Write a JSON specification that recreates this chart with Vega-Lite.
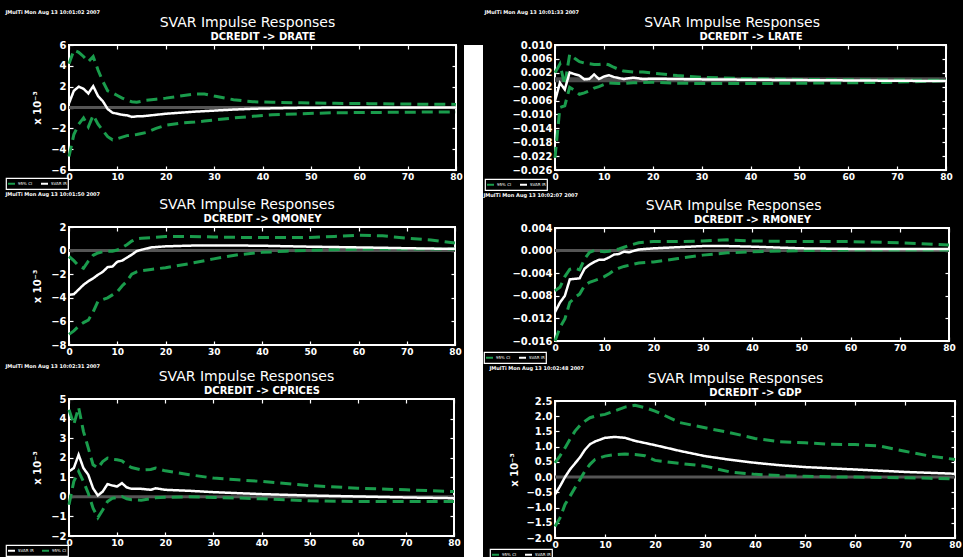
{
"$schema": "https://vega.github.io/schema/vega-lite/v6.json",
"background": "black",
"padding": {"left": 5, "top": 10, "right": 0, "bottom": 0},
"config": {
  "view": {"stroke": "white", "strokeWidth": 2, "fill": "black"},
  "font": "DejaVu Sans",
  "title": {"color": "white", "fontSize": 14, "fontWeight": "normal", "font": "DejaVu Sans"},
  "axis": {"grid": false, "domain": false, "labelColor": "white", "labelFont": "DejaVu Sans", "labelFontWeight": "bold", "labelFontSize": 10, "tickColor": "white", "tickSize": -4, "tickWidth": 1.2, "titleColor": "white", "titleFont": "DejaVu Sans", "labelFlush": false, "labelPadding": 7},
  "axisBottom": {"labelFontSize": 9, "labelPadding": 6},
  "legend": {"orient": "none", "direction": "horizontal", "strokeColor": "white", "strokeWidth": 1.2, "padding": 1, "labelColor": "white", "labelFontSize": 4, "symbolType": "stroke", "symbolSize": 49, "symbolStrokeWidth": 2, "columnPadding": 4, "labelOffset": 2, "rowPadding": 0},
  "line": {"strokeCap": "butt"}
},
"datasets": {
  "drate": [
    {"h":0,"ir":0.4,"lo":-4.7,"hi":4.2},{"h":1,"ir":1.6,"lo":-2.6,"hi":5.5},{"h":2,"ir":2.0,"lo":-1.6,"hi":5.3},{"h":3,"ir":1.8,"lo":-1.0,"hi":4.9},{"h":4,"ir":1.35,"lo":-1.85,"hi":4.4},{"h":5,"ir":2.05,"lo":-0.75,"hi":4.9},{"h":6,"ir":1.1,"lo":-1.6,"hi":3.6},{"h":7,"ir":0.6,"lo":-2.2,"hi":2.5},{"h":8,"ir":-0.15,"lo":-2.8,"hi":1.6},{"h":9,"ir":-0.5,"lo":-3.1,"hi":1.4},{"h":10,"ir":-0.6,"lo":-3.0,"hi":1.15},{"h":11,"ir":-0.7,"lo":-2.85,"hi":0.9},{"h":12,"ir":-0.75,"lo":-2.7,"hi":0.7},{"h":13,"ir":-0.9,"lo":-2.65,"hi":0.55},{"h":14,"ir":-0.85,"lo":-2.6,"hi":0.5},{"h":15,"ir":-0.85,"lo":-2.5,"hi":0.6},{"h":16,"ir":-0.8,"lo":-2.4,"hi":0.7},{"h":18,"ir":-0.7,"lo":-2.0,"hi":0.8},{"h":20,"ir":-0.6,"lo":-1.7,"hi":0.9},{"h":23,"ir":-0.5,"lo":-1.5,"hi":1.1},{"h":26,"ir":-0.4,"lo":-1.4,"hi":1.3},{"h":28,"ir":-0.35,"lo":-1.3,"hi":1.3},{"h":30,"ir":-0.3,"lo":-1.2,"hi":1.1},{"h":34,"ir":-0.2,"lo":-1.0,"hi":0.75},{"h":38,"ir":-0.12,"lo":-0.85,"hi":0.55},{"h":42,"ir":-0.08,"lo":-0.7,"hi":0.5},{"h":48,"ir":-0.03,"lo":-0.6,"hi":0.45},{"h":55,"ir":0.0,"lo":-0.5,"hi":0.4},{"h":62,"ir":0.0,"lo":-0.48,"hi":0.37},{"h":70,"ir":0.0,"lo":-0.45,"hi":0.33},{"h":80,"ir":0.0,"lo":-0.42,"hi":0.3}
  ],
  "lrate": [
    {"h":0,"ir":-0.0061,"lo":-0.0225,"hi":0.0020},{"h":1,"ir":-0.0009,"lo":-0.0080,"hi":0.0045},{"h":2,"ir":-0.0028,"lo":-0.0075,"hi":-0.0015},{"h":3,"ir":0.0021,"lo":-0.0022,"hi":0.0073},{"h":4,"ir":0.0016,"lo":-0.0030,"hi":0.0062},{"h":5,"ir":0.0012,"lo":-0.0042,"hi":0.0052},{"h":6,"ir":0.0001,"lo":-0.0038,"hi":0.0048},{"h":7,"ir":0.0002,"lo":-0.0032,"hi":0.0046},{"h":8,"ir":0.0015,"lo":-0.0024,"hi":0.0044},{"h":9,"ir":0.0002,"lo":-0.0020,"hi":0.0044},{"h":10,"ir":0.0009,"lo":-0.0014,"hi":0.0046},{"h":11,"ir":0.0013,"lo":-0.0009,"hi":0.0043},{"h":12,"ir":0.0008,"lo":-0.0010,"hi":0.0036},{"h":13,"ir":0.0005,"lo":-0.0011,"hi":0.0030},{"h":14,"ir":0.0002,"lo":-0.0011,"hi":0.0025},{"h":16,"ir":0.0006,"lo":-0.0009,"hi":0.0022},{"h":18,"ir":0.0002,"lo":-0.0008,"hi":0.0022},{"h":20,"ir":0.0003,"lo":-0.0007,"hi":0.0019},{"h":25,"ir":0.0002,"lo":-0.0010,"hi":0.0012},{"h":30,"ir":0.0001,"lo":-0.0011,"hi":0.0007},{"h":40,"ir":0.0,"lo":-0.0011,"hi":0.0003},{"h":50,"ir":-0.0001,"lo":-0.0010,"hi":0.0001},{"h":60,"ir":-0.0002,"lo":-0.0009,"hi":0.0},{"h":70,"ir":-0.0003,"lo":-0.0007,"hi":-0.0001},{"h":80,"ir":-0.0004,"lo":-0.0003,"hi":-0.0002}
  ],
  "qmoney": [
    {"h":0,"ir":-3.75,"lo":-7.1,"hi":-0.5},{"h":1,"ir":-3.7,"lo":-6.8,"hi":-0.85},{"h":2,"ir":-3.3,"lo":-6.4,"hi":-1.3},{"h":3,"ir":-2.9,"lo":-6.1,"hi":-1.5},{"h":4,"ir":-2.6,"lo":-5.9,"hi":-0.9},{"h":5,"ir":-2.35,"lo":-5.2,"hi":-0.4},{"h":6,"ir":-2.05,"lo":-4.3,"hi":-0.2},{"h":7,"ir":-1.8,"lo":-4.15,"hi":-0.1},{"h":8,"ir":-1.4,"lo":-4.0,"hi":-0.05},{"h":9,"ir":-1.35,"lo":-3.75,"hi":-0.05},{"h":10,"ir":-0.95,"lo":-3.5,"hi":0.05},{"h":11,"ir":-0.85,"lo":-3.0,"hi":0.25},{"h":12,"ir":-0.6,"lo":-2.6,"hi":0.5},{"h":13,"ir":-0.35,"lo":-2.0,"hi":0.8},{"h":14,"ir":-0.05,"lo":-1.8,"hi":1.0},{"h":15,"ir":0.07,"lo":-1.7,"hi":1.05},{"h":17,"ir":0.27,"lo":-1.6,"hi":1.1},{"h":20,"ir":0.36,"lo":-1.45,"hi":1.2},{"h":25,"ir":0.42,"lo":-1.1,"hi":1.2},{"h":30,"ir":0.44,"lo":-0.7,"hi":1.15},{"h":35,"ir":0.43,"lo":-0.35,"hi":1.12},{"h":40,"ir":0.41,"lo":-0.15,"hi":1.1},{"h":45,"ir":0.37,"lo":-0.05,"hi":1.1},{"h":50,"ir":0.33,"lo":0.03,"hi":1.12},{"h":55,"ir":0.3,"lo":0.08,"hi":1.2},{"h":60,"ir":0.27,"lo":0.12,"hi":1.3},{"h":65,"ir":0.24,"lo":0.13,"hi":1.25},{"h":70,"ir":0.2,"lo":0.13,"hi":1.05},{"h":75,"ir":0.17,"lo":0.13,"hi":0.9},{"h":80,"ir":0.15,"lo":0.13,"hi":0.65}
  ],
  "rmoney": [
    {"h":0,"ir":-0.0109,"lo":-0.0160,"hi":-0.0071},{"h":1,"ir":-0.0092,"lo":-0.0136,"hi":-0.0065},{"h":2,"ir":-0.0080,"lo":-0.0121,"hi":-0.0046},{"h":3,"ir":-0.0051,"lo":-0.0092,"hi":-0.0033},{"h":4,"ir":-0.0050,"lo":-0.0083,"hi":-0.0031},{"h":5,"ir":-0.0049,"lo":-0.0077,"hi":-0.0034},{"h":6,"ir":-0.0032,"lo":-0.0062,"hi":-0.0015},{"h":7,"ir":-0.0025,"lo":-0.0056,"hi":-0.0003},{"h":8,"ir":-0.0020,"lo":-0.0053,"hi":0.0},{"h":9,"ir":-0.0016,"lo":-0.0050,"hi":-0.0001},{"h":10,"ir":-0.0016,"lo":-0.0046,"hi":-0.0002},{"h":11,"ir":-0.0012,"lo":-0.0041,"hi":-0.0001},{"h":12,"ir":-0.0007,"lo":-0.0035,"hi":0.0001},{"h":13,"ir":-0.0006,"lo":-0.0031,"hi":0.0003},{"h":14,"ir":-0.0002,"lo":-0.0028,"hi":0.0006},{"h":15,"ir":-0.0003,"lo":-0.0026,"hi":0.0009},{"h":17,"ir":0.0002,"lo":-0.0022,"hi":0.0014},{"h":20,"ir":0.0004,"lo":-0.0020,"hi":0.0016},{"h":25,"ir":0.0006,"lo":-0.0014,"hi":0.0016},{"h":30,"ir":0.0008,"lo":-0.0008,"hi":0.0017},{"h":35,"ir":0.0008,"lo":-0.0004,"hi":0.0019},{"h":40,"ir":0.0007,"lo":-0.0002,"hi":0.0017},{"h":50,"ir":0.0004,"lo":0.0,"hi":0.0016},{"h":60,"ir":0.0003,"lo":0.0001,"hi":0.0016},{"h":70,"ir":0.0003,"lo":0.0001,"hi":0.0014},{"h":80,"ir":0.0003,"lo":0.0001,"hi":0.0010}
  ],
  "cprices": [
    {"h":0,"ir":1.3,"lo":-0.4,"hi":4.45},{"h":1,"ir":1.47,"lo":0.79,"hi":3.7},{"h":2,"ir":2.15,"lo":1.3,"hi":4.57},{"h":3,"ir":1.47,"lo":0.79,"hi":3.35},{"h":4,"ir":1.13,"lo":0.19,"hi":2.5},{"h":5,"ir":0.44,"lo":-0.58,"hi":1.64},{"h":6,"ir":0.07,"lo":-1.06,"hi":1.47},{"h":7,"ir":0.27,"lo":-0.67,"hi":1.8},{"h":8,"ir":0.65,"lo":-0.24,"hi":1.98},{"h":9,"ir":0.58,"lo":-0.07,"hi":1.92},{"h":10,"ir":0.53,"lo":-0.03,"hi":1.9},{"h":11,"ir":0.7,"lo":0.02,"hi":1.84},{"h":12,"ir":0.48,"lo":-0.1,"hi":1.64},{"h":13,"ir":0.41,"lo":-0.15,"hi":1.5},{"h":15,"ir":0.41,"lo":-0.17,"hi":1.38},{"h":17,"ir":0.36,"lo":-0.1,"hi":1.4},{"h":18,"ir":0.44,"lo":-0.05,"hi":1.47},{"h":20,"ir":0.36,"lo":-0.02,"hi":1.33},{"h":25,"ir":0.31,"lo":0.0,"hi":1.13},{"h":30,"ir":0.24,"lo":-0.03,"hi":0.96},{"h":35,"ir":0.19,"lo":-0.06,"hi":0.87},{"h":40,"ir":0.14,"lo":-0.1,"hi":0.79},{"h":50,"ir":0.07,"lo":-0.2,"hi":0.58},{"h":60,"ir":0.02,"lo":-0.24,"hi":0.44},{"h":70,"ir":-0.03,"lo":-0.24,"hi":0.36},{"h":80,"ir":-0.07,"lo":-0.24,"hi":0.27}
  ],
  "gdp": [
    {"h":0,"ir":-0.57,"lo":-1.62,"hi":0.47},{"h":1,"ir":-0.3,"lo":-1.34,"hi":0.7},{"h":2,"ir":0.0,"lo":-0.9,"hi":0.96},{"h":3,"ir":0.25,"lo":-0.63,"hi":1.25},{"h":4,"ir":0.45,"lo":-0.35,"hi":1.51},{"h":5,"ir":0.65,"lo":-0.08,"hi":1.7},{"h":6,"ir":0.9,"lo":0.2,"hi":1.84},{"h":7,"ir":1.08,"lo":0.42,"hi":1.95},{"h":8,"ir":1.17,"lo":0.58,"hi":2.0},{"h":10,"ir":1.29,"lo":0.69,"hi":2.06},{"h":12,"ir":1.32,"lo":0.74,"hi":2.18},{"h":14,"ir":1.29,"lo":0.76,"hi":2.3},{"h":16,"ir":1.19,"lo":0.74,"hi":2.36},{"h":18,"ir":1.12,"lo":0.7,"hi":2.28},{"h":20,"ir":1.05,"lo":0.55,"hi":2.17},{"h":25,"ir":0.86,"lo":0.45,"hi":1.79},{"h":30,"ir":0.69,"lo":0.36,"hi":1.62},{"h":35,"ir":0.57,"lo":0.17,"hi":1.46},{"h":40,"ir":0.47,"lo":0.09,"hi":1.27},{"h":45,"ir":0.39,"lo":0.05,"hi":1.16},{"h":50,"ir":0.33,"lo":0.03,"hi":1.13},{"h":55,"ir":0.29,"lo":0.01,"hi":1.08},{"h":60,"ir":0.25,"lo":0.0,"hi":1.07},{"h":65,"ir":0.21,"lo":-0.01,"hi":1.02},{"h":70,"ir":0.17,"lo":-0.02,"hi":0.85},{"h":75,"ir":0.14,"lo":-0.04,"hi":0.69},{"h":80,"ir":0.11,"lo":-0.06,"hi":0.58}
  ]
},
"spacing": 0,
"resolve": {"scale": {"color": "independent", "strokeDash": "independent"}, "legend": {"color": "independent", "strokeDash": "independent"}},
"hconcat": [
 {"spacing": 2,
  "resolve": {"scale": {"color": "independent", "strokeDash": "independent"}, "legend": {"color": "independent", "strokeDash": "independent"}},
  "vconcat": [
  {"title": {"text": "JMulTi     Mon Aug 13 10:01:02 2007", "anchor": "start", "frame": "bounds", "fontSize": 5, "fontWeight": "bold", "offset": 0},
   "spacing": 0,
   "vconcat": [{
    "width": 387, "height": 125,
    "title": {"text": "SVAR Impulse Responses", "anchor": "middle", "frame": "bounds", "offset": 1},
    "data": {"name": "drate"},
    "resolve": {"axis": {"x": "independent", "y": "independent"}},
    "layer": [
     {"data": {"values": [{"zero": 0}]}, "mark": {"type": "rule", "color": "#555555", "strokeWidth": 3},
      "encoding": {"y": {"field": "zero", "type": "quantitative", "scale": {"domain": [-6, 6], "nice": false, "zero": false},
        "axis": {"orient": "left", "values": [-6, -4, -2, 0, 2, 4, 6], "title": "x 10⁻³", "titleFontSize": 10, "titlePadding": 8}}}},
     {"transform": [{"fold": ["lo", "hi"], "as": ["s", "v"]}], "mark": {"type": "line", "strokeWidth": 3},
      "encoding": {
       "x": {"field": "h", "type": "quantitative", "scale": {"domain": [0, 80], "nice": false}, "axis": {"orient": "bottom", "values": [0, 10, 20, 30, 40, 50, 60, 70, 80], "title": null}},
       "y": {"field": "v", "type": "quantitative", "axis": {"orient": "right", "values": [-6, -4, -2, 0, 2, 4, 6], "labels": false, "title": null}},
       "color": {"field": "s", "type": "nominal", "title": null, "scale": {"domain": ["ir", "lo", "hi"], "range": ["#ffffff", "#1a9c4c", "#1a9c4c"]}, "legend": {"legendX": -63, "legendY": 133, "values": ["lo", "ir"], "labelExpr": "datum.value == 'ir' ? 'SVAR IR' : '95% CI'"}},
       "strokeDash": {"field": "s", "type": "nominal", "title": null, "scale": {"domain": ["ir", "lo", "hi"], "range": [[1, 0], [11, 6], [11, 6]]}, "legend": {"legendX": -63, "legendY": 133, "values": ["lo", "ir"], "labelExpr": "datum.value == 'ir' ? 'SVAR IR' : '95% CI'"}}
      }},
     {"transform": [{"fold": ["ir"], "as": ["s", "v"]}], "mark": {"type": "line", "strokeWidth": 2.5},
      "encoding": {
       "x": {"field": "h", "type": "quantitative", "axis": {"orient": "top", "values": [0, 10, 20, 30, 40, 50, 60, 70, 80], "labels": false, "title": "DCREDIT -> DRATE", "titleFontSize": 10, "titleFontWeight": "bold", "titlePadding": 3}},
       "y": {"field": "v", "type": "quantitative", "axis": null},
       "color": {"field": "s", "type": "nominal", "title": null},
       "strokeDash": {"field": "s", "type": "nominal", "title": null}
      }}
    ]
   }]
  },
  {"title": {"text": "JMulTi     Mon Aug 13 10:01:50 2007", "anchor": "start", "frame": "bounds", "fontSize": 5, "fontWeight": "bold", "offset": 0},
   "spacing": 0,
   "vconcat": [{
    "width": 386, "height": 118,
    "title": {"text": "SVAR Impulse Responses", "anchor": "middle", "frame": "bounds", "offset": 1},
    "data": {"name": "qmoney"},
    "resolve": {"axis": {"x": "independent", "y": "independent"}},
    "layer": [
     {"data": {"values": [{"zero": 0}]}, "mark": {"type": "rule", "color": "#555555", "strokeWidth": 3},
      "encoding": {"y": {"field": "zero", "type": "quantitative", "scale": {"domain": [-8, 2], "nice": false, "zero": false},
        "axis": {"orient": "left", "values": [-8, -6, -4, -2, 0, 2], "title": "x 10⁻³", "titleFontSize": 10, "titlePadding": 8}}}},
     {"transform": [{"fold": ["lo", "hi"], "as": ["s", "v"]}], "mark": {"type": "line", "strokeWidth": 3},
      "encoding": {
       "x": {"field": "h", "type": "quantitative", "scale": {"domain": [0, 80], "nice": false}, "axis": {"orient": "bottom", "values": [0, 10, 20, 30, 40, 50, 60, 70, 80], "title": null}},
       "y": {"field": "v", "type": "quantitative", "axis": {"orient": "right", "values": [-8, -6, -4, -2, 0, 2], "labels": false, "title": null}},
       "color": {"field": "s", "type": "nominal", "title": null, "scale": {"domain": ["ir", "lo", "hi"], "range": ["#ffffff", "#1a9c4c", "#1a9c4c"]}, "legend": {"legendX": -63, "legendY": 125, "values": ["lo", "ir"], "symbolOpacity": 0, "labelOpacity": 0, "strokeColor": "transparent"}},
       "strokeDash": {"field": "s", "type": "nominal", "title": null, "scale": {"domain": ["ir", "lo", "hi"], "range": [[1, 0], [11, 6], [11, 6]]}, "legend": {"legendX": -63, "legendY": 125, "values": ["lo", "ir"], "symbolOpacity": 0, "labelOpacity": 0, "strokeColor": "transparent"}}
      }},
     {"transform": [{"fold": ["ir"], "as": ["s", "v"]}], "mark": {"type": "line", "strokeWidth": 2.5},
      "encoding": {
       "x": {"field": "h", "type": "quantitative", "axis": {"orient": "top", "values": [0, 10, 20, 30, 40, 50, 60, 70, 80], "labels": false, "title": "DCREDIT -> QMONEY", "titleFontSize": 10, "titleFontWeight": "bold", "titlePadding": 3}},
       "y": {"field": "v", "type": "quantitative", "axis": null},
       "color": {"field": "s", "type": "nominal", "title": null},
       "strokeDash": {"field": "s", "type": "nominal", "title": null}
      }}
    ]
   }]
  },
  {"title": {"text": "JMulTi     Mon Aug 13 10:02:31 2007", "anchor": "start", "frame": "bounds", "fontSize": 5, "fontWeight": "bold", "offset": 0},
   "spacing": 0,
   "vconcat": [{
    "width": 385, "height": 137,
    "title": {"text": "SVAR Impulse Responses", "anchor": "middle", "frame": "bounds", "offset": 1},
    "data": {"name": "cprices"},
    "resolve": {"axis": {"x": "independent", "y": "independent"}},
    "layer": [
     {"data": {"values": [{"zero": 0}]}, "mark": {"type": "rule", "color": "#555555", "strokeWidth": 3},
      "encoding": {"y": {"field": "zero", "type": "quantitative", "scale": {"domain": [-2, 5], "nice": false, "zero": false},
        "axis": {"orient": "left", "values": [-2, -1, 0, 1, 2, 3, 4, 5], "title": "x 10⁻³", "titleFontSize": 10, "titlePadding": 8}}}},
     {"transform": [{"fold": ["lo", "hi"], "as": ["s", "v"]}], "mark": {"type": "line", "strokeWidth": 3},
      "encoding": {
       "x": {"field": "h", "type": "quantitative", "scale": {"domain": [0, 80], "nice": false}, "axis": {"orient": "bottom", "values": [0, 10, 20, 30, 40, 50, 60, 70, 80], "title": null}},
       "y": {"field": "v", "type": "quantitative", "axis": {"orient": "right", "values": [-2, -1, 0, 1, 2, 3, 4, 5], "labels": false, "title": null}},
       "color": {"field": "s", "type": "nominal", "title": null, "scale": {"domain": ["ir", "lo", "hi"], "range": ["#ffffff", "#1a9c4c", "#1a9c4c"]}, "legend": {"legendX": -63, "legendY": 146, "values": ["ir", "lo"], "labelExpr": "datum.value == 'ir' ? 'SVAR IR' : '95% CI'"}},
       "strokeDash": {"field": "s", "type": "nominal", "title": null, "scale": {"domain": ["ir", "lo", "hi"], "range": [[1, 0], [11, 6], [11, 6]]}, "legend": {"legendX": -63, "legendY": 146, "values": ["ir", "lo"], "labelExpr": "datum.value == 'ir' ? 'SVAR IR' : '95% CI'"}}
      }},
     {"transform": [{"fold": ["ir"], "as": ["s", "v"]}], "mark": {"type": "line", "strokeWidth": 2.5},
      "encoding": {
       "x": {"field": "h", "type": "quantitative", "axis": {"orient": "top", "values": [0, 10, 20, 30, 40, 50, 60, 70, 80], "labels": false, "title": "DCREDIT -> CPRICES", "titleFontSize": 10, "titleFontWeight": "bold", "titlePadding": 3}},
       "y": {"field": "v", "type": "quantitative", "axis": null},
       "color": {"field": "s", "type": "nominal", "title": null},
       "strokeDash": {"field": "s", "type": "nominal", "title": null}
      }}
    ]
   }]
  }
 ]},
 {"width": 19, "height": 547, "view": {"fill": "white", "stroke": null}, "data": {"values": []}, "mark": "point"},
 {"spacing": 2,
  "resolve": {"scale": {"color": "independent", "strokeDash": "independent"}, "legend": {"color": "independent", "strokeDash": "independent"}},
  "vconcat": [
  {"title": {"text": "JMulTi     Mon Aug 13 10:01:33 2007", "anchor": "start", "frame": "bounds", "fontSize": 5, "fontWeight": "bold", "offset": 0},
   "spacing": 0,
   "vconcat": [{
    "width": 391, "height": 125,
    "title": {"text": "SVAR Impulse Responses", "anchor": "middle", "frame": "bounds", "offset": 1},
    "data": {"name": "lrate"},
    "resolve": {"axis": {"x": "independent", "y": "independent"}},
    "layer": [
     {"data": {"values": [{"zero": 0}]}, "mark": {"type": "rule", "color": "#4a4a4a", "strokeWidth": 5},
      "encoding": {"y": {"field": "zero", "type": "quantitative", "scale": {"domain": [-0.026, 0.010], "nice": false, "zero": false},
        "axis": {"orient": "left", "values": [-0.026, -0.022, -0.018, -0.014, -0.010, -0.006, -0.002, 0.002, 0.006, 0.010], "format": ".3f", "title": null}}}},
     {"transform": [{"fold": ["lo", "hi"], "as": ["s", "v"]}], "mark": {"type": "line", "strokeWidth": 3},
      "encoding": {
       "x": {"field": "h", "type": "quantitative", "scale": {"domain": [0, 80], "nice": false}, "axis": {"orient": "bottom", "values": [0, 10, 20, 30, 40, 50, 60, 70, 80], "title": null}},
       "y": {"field": "v", "type": "quantitative", "axis": {"orient": "right", "values": [-0.026, -0.022, -0.018, -0.014, -0.010, -0.006, -0.002, 0.002, 0.006, 0.010], "labels": false, "title": null}},
       "color": {"field": "s", "type": "nominal", "title": null, "scale": {"domain": ["ir", "lo", "hi"], "range": ["#ffffff", "#1a9c4c", "#1a9c4c"]}, "legend": {"legendX": -70, "legendY": 134, "values": ["lo", "ir"], "labelExpr": "datum.value == 'ir' ? 'SVAR IR' : '95% CI'"}},
       "strokeDash": {"field": "s", "type": "nominal", "title": null, "scale": {"domain": ["ir", "lo", "hi"], "range": [[1, 0], [11, 6], [11, 6]]}, "legend": {"legendX": -70, "legendY": 134, "values": ["lo", "ir"], "labelExpr": "datum.value == 'ir' ? 'SVAR IR' : '95% CI'"}}
      }},
     {"transform": [{"fold": ["ir"], "as": ["s", "v"]}], "mark": {"type": "line", "strokeWidth": 2.5},
      "encoding": {
       "x": {"field": "h", "type": "quantitative", "axis": {"orient": "top", "values": [0, 10, 20, 30, 40, 50, 60, 70, 80], "labels": false, "title": "DCREDIT -> LRATE", "titleFontSize": 10, "titleFontWeight": "bold", "titlePadding": 3}},
       "y": {"field": "v", "type": "quantitative", "axis": null},
       "color": {"field": "s", "type": "nominal", "title": null},
       "strokeDash": {"field": "s", "type": "nominal", "title": null}
      }}
    ]
   }]
  },
  {"title": {"text": "JMulTi     Mon Aug 13 10:02:07 2007", "anchor": "start", "frame": "bounds", "fontSize": 5, "fontWeight": "bold", "offset": 0},
   "spacing": 0,
   "vconcat": [{
    "width": 394, "height": 113,
    "title": {"text": "SVAR Impulse Responses", "anchor": "middle", "frame": "bounds", "offset": 1},
    "data": {"name": "rmoney"},
    "resolve": {"axis": {"x": "independent", "y": "independent"}},
    "layer": [
     {"data": {"values": [{"zero": 0}]}, "mark": {"type": "rule", "color": "#555555", "strokeWidth": 3},
      "encoding": {"y": {"field": "zero", "type": "quantitative", "scale": {"domain": [-0.016, 0.004], "nice": false, "zero": false},
        "axis": {"orient": "left", "values": [-0.016, -0.012, -0.008, -0.004, 0, 0.004], "format": ".3f", "title": null}}}},
     {"transform": [{"fold": ["lo", "hi"], "as": ["s", "v"]}], "mark": {"type": "line", "strokeWidth": 3},
      "encoding": {
       "x": {"field": "h", "type": "quantitative", "scale": {"domain": [0, 80], "nice": false}, "axis": {"orient": "bottom", "values": [0, 10, 20, 30, 40, 50, 60, 70, 80], "title": null}},
       "y": {"field": "v", "type": "quantitative", "axis": {"orient": "right", "values": [-0.016, -0.012, -0.008, -0.004, 0, 0.004], "labels": false, "title": null}},
       "color": {"field": "s", "type": "nominal", "title": null, "scale": {"domain": ["ir", "lo", "hi"], "range": ["#ffffff", "#1a9c4c", "#1a9c4c"]}, "legend": {"legendX": -71, "legendY": 124, "values": ["lo", "ir"], "labelExpr": "datum.value == 'ir' ? 'SVAR IR' : '95% CI'"}},
       "strokeDash": {"field": "s", "type": "nominal", "title": null, "scale": {"domain": ["ir", "lo", "hi"], "range": [[1, 0], [11, 6], [11, 6]]}, "legend": {"legendX": -71, "legendY": 124, "values": ["lo", "ir"], "labelExpr": "datum.value == 'ir' ? 'SVAR IR' : '95% CI'"}}
      }},
     {"transform": [{"fold": ["ir"], "as": ["s", "v"]}], "mark": {"type": "line", "strokeWidth": 2.5},
      "encoding": {
       "x": {"field": "h", "type": "quantitative", "axis": {"orient": "top", "values": [0, 10, 20, 30, 40, 50, 60, 70, 80], "labels": false, "title": "DCREDIT -> RMONEY", "titleFontSize": 10, "titleFontWeight": "bold", "titlePadding": 3}},
       "y": {"field": "v", "type": "quantitative", "axis": null},
       "color": {"field": "s", "type": "nominal", "title": null},
       "strokeDash": {"field": "s", "type": "nominal", "title": null}
      }}
    ]
   }]
  },
  {"title": {"text": "JMulTi     Mon Aug 13 10:02:48 2007", "anchor": "start", "frame": "bounds", "fontSize": 5, "fontWeight": "bold", "offset": 0},
   "spacing": 0,
   "vconcat": [{
    "width": 400, "height": 137,
    "title": {"text": "SVAR Impulse Responses", "anchor": "middle", "frame": "bounds", "offset": 1},
    "data": {"name": "gdp"},
    "resolve": {"axis": {"x": "independent", "y": "independent"}},
    "layer": [
     {"data": {"values": [{"zero": 0}]}, "mark": {"type": "rule", "color": "#555555", "strokeWidth": 3},
      "encoding": {"y": {"field": "zero", "type": "quantitative", "scale": {"domain": [-2, 2.5], "nice": false, "zero": false},
        "axis": {"orient": "left", "values": [-2, -1.5, -1, -0.5, 0, 0.5, 1, 1.5, 2, 2.5], "format": ".1f", "title": "x 10⁻³", "titleFontSize": 10, "titlePadding": 6}}}},
     {"transform": [{"fold": ["lo", "hi"], "as": ["s", "v"]}], "mark": {"type": "line", "strokeWidth": 3},
      "encoding": {
       "x": {"field": "h", "type": "quantitative", "scale": {"domain": [0, 80], "nice": false}, "axis": {"orient": "bottom", "values": [0, 10, 20, 30, 40, 50, 60, 70, 80], "title": null}},
       "y": {"field": "v", "type": "quantitative", "axis": {"orient": "right", "values": [-2, -1.5, -1, -0.5, 0, 0.5, 1, 1.5, 2, 2.5], "labels": false, "title": null}},
       "color": {"field": "s", "type": "nominal", "title": null, "scale": {"domain": ["ir", "lo", "hi"], "range": ["#ffffff", "#1a9c4c", "#1a9c4c"]}, "legend": {"legendX": -65, "legendY": 148, "values": ["lo", "ir"], "labelExpr": "datum.value == 'ir' ? 'SVAR IR' : '95% CI'"}},
       "strokeDash": {"field": "s", "type": "nominal", "title": null, "scale": {"domain": ["ir", "lo", "hi"], "range": [[1, 0], [11, 6], [11, 6]]}, "legend": {"legendX": -65, "legendY": 148, "values": ["lo", "ir"], "labelExpr": "datum.value == 'ir' ? 'SVAR IR' : '95% CI'"}}
      }},
     {"transform": [{"fold": ["ir"], "as": ["s", "v"]}], "mark": {"type": "line", "strokeWidth": 2.5},
      "encoding": {
       "x": {"field": "h", "type": "quantitative", "axis": {"orient": "top", "values": [0, 10, 20, 30, 40, 50, 60, 70, 80], "labels": false, "title": "DCREDIT -> GDP", "titleFontSize": 10, "titleFontWeight": "bold", "titlePadding": 3}},
       "y": {"field": "v", "type": "quantitative", "axis": null},
       "color": {"field": "s", "type": "nominal", "title": null},
       "strokeDash": {"field": "s", "type": "nominal", "title": null}
      }}
    ]
   }]
  }
 ]}
]
}
